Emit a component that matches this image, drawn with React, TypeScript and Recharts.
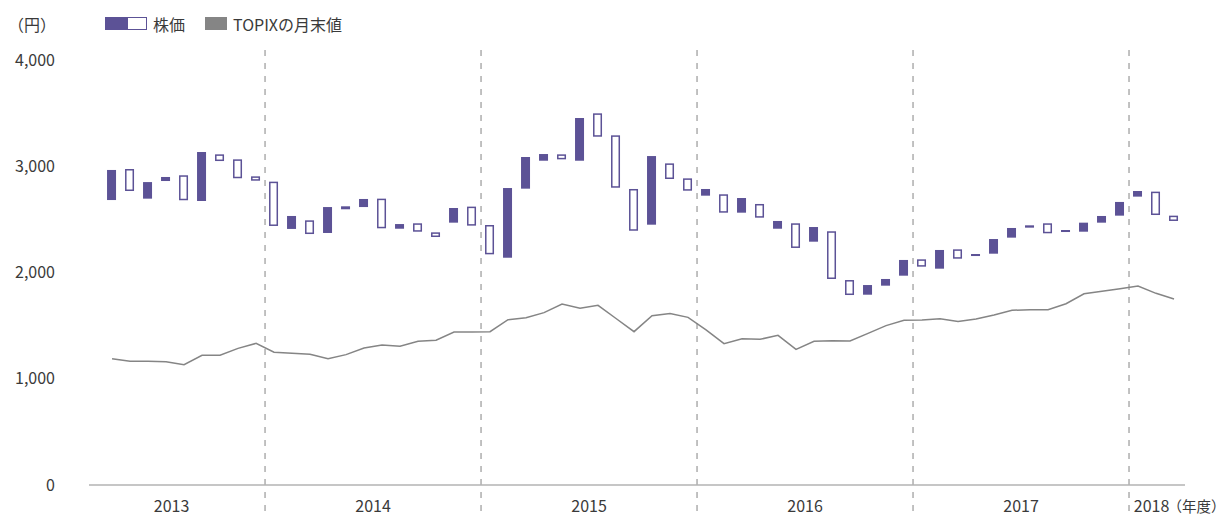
import { ComposedChart, Bar, Line, XAxis, YAxis, ReferenceLine, Text } from "recharts";

// fiscal years and how many months of each are shown
const fiscalYears = ["2013", "2014", "2015", "2016", "2017", "2018"];
const monthsPerYear = [9, 12, 12, 12, 12, 3];

// monthly open / close of the share price (円)
const priceOpen = [
  2965, 2767, 2851, 2899, 2680, 3134, 3049, 2887, 2864,
  2438, 2532, 2362, 2616, 2595, 2692, 2416, 2456, 2384, 2334, 2607, 2441,
  2171, 2795, 3087, 3115, 3065, 3454, 3278, 2798, 2393, 3096, 2880, 2770,
  2786, 2563, 2701, 2516, 2485, 2231, 2428, 1939, 1788, 1882, 1939, 2118,
  2055, 2212, 2130, 2174, 2315, 2419, 2422, 2369, 2400, 2469, 2532, 2664,
  2767, 2541, 2485,
];
const priceClose = [
  2682, 2974, 2695, 2861, 2915, 2673, 3112, 3065, 2905,
  2855, 2410, 2491, 2372, 2623, 2616, 2695, 2412, 2463, 2378, 2469, 2620,
  2447, 2139, 2789, 3052, 3112, 3052, 3498, 3291, 2786, 2450, 3027, 2886,
  2723, 2736, 2563, 2645, 2412, 2463, 2290, 2388, 1929, 1791, 1876, 1970,
  2124, 2036, 2218, 2155, 2177, 2328, 2444, 2463, 2381, 2384, 2469, 2535,
  2714, 2761, 2535,
];

// TOPIX month-end values
const topixClose = [
  1189, 1164, 1164, 1161, 1133, 1221, 1221, 1286, 1333,
  1249, 1239, 1230, 1189, 1227, 1289, 1318, 1305, 1352, 1362, 1440, 1440,
  1443, 1556, 1575, 1622, 1704, 1663, 1691, 1567, 1443, 1594, 1613, 1578,
  1460, 1330, 1377, 1371, 1409, 1277, 1352, 1358, 1355, 1427, 1500, 1550,
  1553, 1565, 1540, 1562, 1600, 1644, 1650, 1650, 1706, 1800, 1823, 1848,
  1873, 1804, 1751,
];

const yTicks = [0, 1000, 2000, 3000, 4000];

const PURPLE = "#5c5296";
const GRAY = "#858585";
const TEXT = "#3a3a3a";
const FONT = "'Noto Sans CJK JP', 'Noto Sans', sans-serif";

// x domain in month units (a little room before the first month)
const X_MIN = -1.28;
const X_MAX = 59.61;

const data = topixClose.map((t, i) => ({
  i,
  range: [Math.min(priceOpen[i], priceClose[i]), Math.max(priceOpen[i], priceClose[i])],
  up: priceClose[i] > priceOpen[i],
  topix: t,
}));

// boundaries between fiscal years, and the centre of each year's span
const boundaries: number[] = [];
{
  let acc = 0;
  monthsPerYear.slice(0, -1).forEach((m) => {
    acc += m;
    boundaries.push(acc - 0.5);
  });
}
const yearTickPos = fiscalYears.map((_, k) => {
  const left = k === 0 ? X_MIN - 0.6 : boundaries[k - 1];
  const right = k === fiscalYears.length - 1 ? X_MAX - 0.6 : boundaries[k];
  return (left + right) / 2;
});

function Candle(props: any) {
  const { x, y, width } = props;
  const height = Math.abs(props.height);
  const up = props.payload ? props.payload.up : props.up;
  if (up) {
    const sw = 1.5;
    return (
      <rect
        x={x + sw / 2}
        y={y + sw / 2}
        width={Math.max(width - sw, 0)}
        height={Math.max(height - sw, 0.5)}
        fill="#fff"
        stroke={PURPLE}
        strokeWidth={sw}
      />
    );
  }
  return <rect x={x} y={y} width={width} height={Math.max(height, 1)} fill={PURPLE} />;
}

function YearTick(props: any) {
  const { x, y, payload } = props;
  const k = yearTickPos.indexOf(payload.value);
  const label = fiscalYears[k] ?? "";
  return (
    <g>
      <Text x={x} y={y} verticalAnchor="start" textAnchor="middle" fill={TEXT} fontSize={16} fontFamily={FONT}>
        {label}
      </Text>
      {k === fiscalYears.length - 1 && (
        <Text x={x + 16} y={y + 1} verticalAnchor="start" textAnchor="start" fill={TEXT} fontSize={14.5} fontFamily={FONT}>
          （年度）
        </Text>
      )}
    </g>
  );
}

function DashedDivider(props: any) {
  const top = Math.min(props.y1, props.y2);
  const bottom = Math.max(props.y1, props.y2);
  return (
    <line
      x1={props.x1}
      x2={props.x2}
      y1={top - 10}
      y2={bottom + 31}
      stroke="#999"
      strokeWidth={1.2}
      strokeDasharray="6 7"
    />
  );
}

export default function App() {
  return (
    <div style={{ position: "absolute", left: 0, top: 0, width: 1227, height: 516, fontFamily: FONT, color: TEXT }}>
      <div style={{ position: "absolute", left: 8, top: 14, fontSize: 16, lineHeight: "20px" }}>（円）</div>
      <div style={{ position: "absolute", left: 105, top: 17, width: 22, height: 13, background: PURPLE }} />
      <div
        style={{
          position: "absolute",
          left: 127,
          top: 17,
          width: 20,
          height: 13,
          boxSizing: "border-box",
          border: `1.5px solid ${PURPLE}`,
          background: "#fff",
        }}
      />
      <div style={{ position: "absolute", left: 153, top: 14, fontSize: 16, lineHeight: "20px" }}>株価</div>
      <div style={{ position: "absolute", left: 205, top: 17, width: 22, height: 13, background: GRAY }} />
      <div style={{ position: "absolute", left: 233, top: 14, fontSize: 16, lineHeight: "20px" }}>TOPIXの月末値</div>

      <ComposedChart
        width={1227}
        height={516}
        data={data}
        margin={{ top: 60, right: 42, bottom: 0, left: 0 }}
      >
        <XAxis
          type="number"
          dataKey="i"
          domain={[X_MIN, X_MAX]}
          allowDataOverflow
          ticks={yearTickPos}
          interval={0}
          tick={<YearTick />}
          tickLine={false}
          tickSize={0}
          tickMargin={16}
          height={31}
          axisLine={{ stroke: "#b3b3b3", strokeWidth: 1.5 }}
        />
        <YAxis
          type="number"
          domain={[0, 4000]}
          ticks={yTicks}
          width={89}
          axisLine={false}
          tickLine={false}
          tickSize={0}
          tickMargin={34}
          tick={{ fontSize: 16, fill: TEXT, fontFamily: FONT }}
          tickFormatter={(v: number) => v.toLocaleString("en-US")}
        />
        {boundaries.map((b) => (
          <ReferenceLine key={b} x={b} shape={DashedDivider} />
        ))}
        <Bar dataKey="range" barSize={9} shape={Candle} isAnimationActive={false} />
        <Line
          type="linear"
          dataKey="topix"
          stroke={GRAY}
          strokeWidth={1.5}
          dot={false}
          activeDot={false}
          isAnimationActive={false}
        />
      </ComposedChart>
    </div>
  );
}
